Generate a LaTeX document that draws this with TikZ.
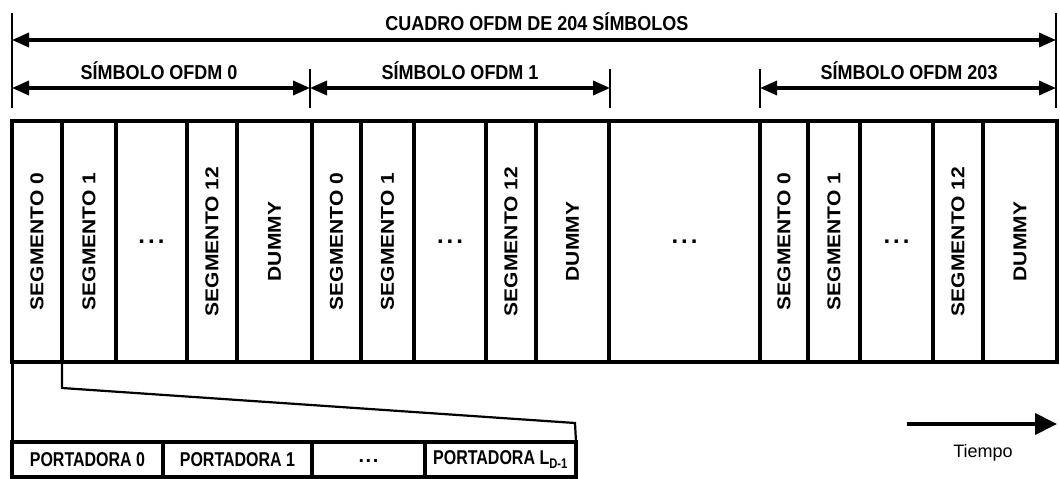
\documentclass[tikz,border=0pt]{standalone}
\usepackage{fontspec}
\setmainfont{Liberation Sans}
\usetikzlibrary{arrows.meta}
\begin{document}
\begin{tikzpicture}[x=1pt,y=-1pt,
  dimarrow/.style={line width=3.5pt,{Triangle[length=17pt,width=14pt]}-{Triangle[length=17pt,width=14pt]}},
  tickline/.style={line width=2.5pt},
  hdr/.style={font=\fontsize{18}{20}\selectfont\bfseries, inner sep=0pt},
  cell/.style={draw, line width=3.5pt, rotate=90, minimum width=241pt, inner sep=0pt, outer sep=0pt,
    font=\fontsize{18.6}{20}\selectfont\bfseries},
  dotcell/.style={draw, line width=3.5pt, minimum height=241pt, inner sep=0pt, outer sep=0pt,
    font=\fontsize{24}{24}\selectfont\bfseries},
  pcell/.style={draw, line width=3.5pt, minimum height=35pt, inner sep=0pt, outer sep=0pt,
    font=\fontsize{16}{18}\selectfont\bfseries},
  conn/.style={line width=2.2pt, line join=miter},
  timearrow/.style={line width=4pt,-{Triangle[length=22pt,width=21pt]}},
  tlabel/.style={font=\fontsize{18}{20}\selectfont, inner sep=0pt}
]
\useasboundingbox (0,0) rectangle (1060,479);
\newcommand{\vtxt}[1]{\scalebox{1.13}[1]{#1}}
\newcommand{\htxt}[1]{\scalebox{1}[1.12]{#1}}
\newcommand{\dotsx}{.\kern3pt.\kern3pt.}

% ---- tick coordinates
\coordinate (tL1) at (12,13);   \coordinate (tL2) at (12,108);
\coordinate (tR1) at (1056,13); \coordinate (tR2) at (1056,108);
\coordinate (tA1) at (310,69);  \coordinate (tA2) at (310,108);
\coordinate (tB1) at (610,69);  \coordinate (tB2) at (610,108);
\coordinate (tC1) at (760,69);  \coordinate (tC2) at (760,108);
\draw[tickline] (tL1) -- (tL2);
\draw[tickline] (tR1) -- (tR2);
\draw[tickline] (tA1) -- (tA2);
\draw[tickline] (tB1) -- (tB2);
\draw[tickline] (tC1) -- (tC2);

% ---- arrow end coordinates
\coordinate (fa) at (12,40);  \coordinate (fb) at (1056,40);
\coordinate (s0a) at (12,88); \coordinate (s0b) at (310,88);
\coordinate (s1a) at (310,88); \coordinate (s1b) at (610,88);
\coordinate (s2a) at (760,88); \coordinate (s2b) at (1056,88);
\draw[dimarrow] (fa) -- (fb);
\draw[dimarrow] (s0a) -- (s0b);
\draw[dimarrow] (s1a) -- (s1b);
\draw[dimarrow] (s2a) -- (s2b);

\node[hdr] (tframe) at (537,22) {\htxt{CUADRO OFDM DE 204 SÍMBOLOS}};
\node[hdr] (tsym0) at (159,71) {\htxt{SÍMBOLO OFDM 0}};
\node[hdr] (tsym1) at (460,71) {\htxt{SÍMBOLO OFDM 1}};
\node[hdr] (tsym2) at (909,71) {\htxt{SÍMBOLO OFDM 203}};

% ---- main row of cells
\foreach \a/\b/\t/\n in {12/62/SEGMENTO 0/c0, 62/116/SEGMENTO 1/c1, 187/237/SEGMENTO 12/c3, 237/312/DUMMY/c4,
  312/361/SEGMENTO 0/c5, 361/414/SEGMENTO 1/c6, 486/536/SEGMENTO 12/c8, 536/609/DUMMY/c9,
  760/808/SEGMENTO 0/c11, 808/860/SEGMENTO 1/c12, 933/983/SEGMENTO 12/c14, 983/1057/DUMMY/c15}
{
  \node[cell, minimum height={(\b-\a)*1pt}] (\n) at ({(\a+\b)/2},241.5) {\vtxt{\t}};
}
\foreach \a/\b/\n in {116/187/c2, 414/486/c7, 609/760/c10, 860/933/c13}
{
  \node[dotcell, minimum width={(\b-\a)*1pt}] (\n) at ({(\a+\b)/2},241.5) {\raisebox{-4pt}{\dotsx}};
}

% ---- carriers row
\node[pcell, minimum width=151pt] (p0) at (87.5,459.5) {\scalebox{1}[1.25]{PORTADORA 0}};
\node[pcell, minimum width=149pt] (p1) at (237.5,459.5) {\scalebox{1}[1.25]{PORTADORA 1}};
\node[pcell, minimum width=113pt] (p2) at (368.5,459.5) {\raisebox{-5pt}{\fontsize{20}{20}\selectfont .\kern1.5pt.\kern1.5pt.}};
\node[pcell, minimum width=151pt] (p3) at (500.5,459.5) {\scalebox{1}[1.25]{PORTADORA L\textsubscript{D-1}}};

% ---- zoom connector
\coordinate (k0) at (62,362);
\coordinate (k1) at (62,388);
\coordinate (k2) at (575,423);
\coordinate (kL) at (12,362);
\draw[conn] (k0) -- (k1) -- (k2) -- (p3.north east);
\draw[line width=3pt] (kL) -- (p0.north west);

% ---- time arrow
\coordinate (ta) at (907,424);
\coordinate (tb) at (1057,424);
\draw[timearrow] (ta) -- (tb);
\node[tlabel] (tiempo) at (983,453) {Tiempo};
\end{tikzpicture}
\end{document}
